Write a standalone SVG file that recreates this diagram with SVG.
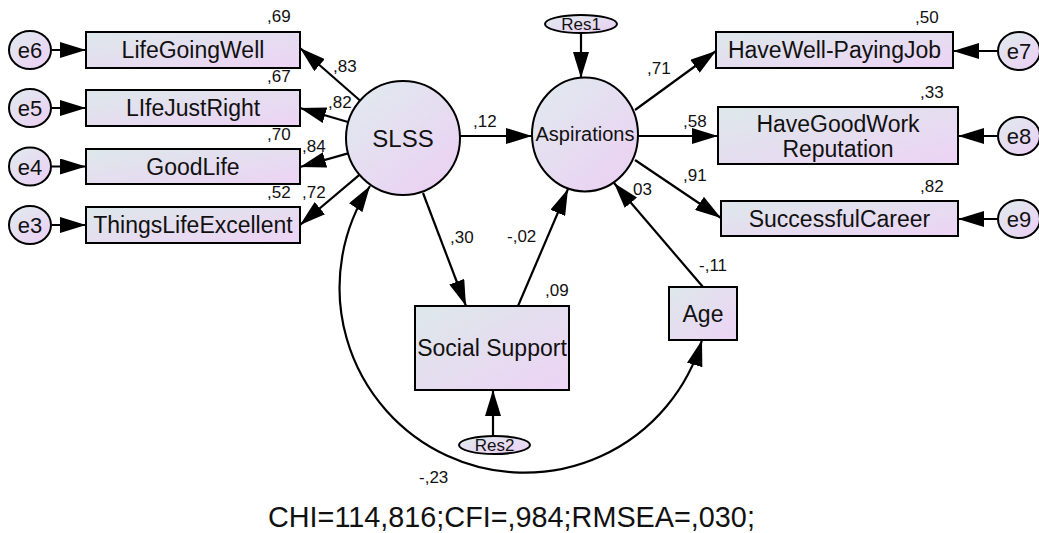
<svg xmlns="http://www.w3.org/2000/svg" width="1039" height="533" viewBox="0 0 1039 533">
<defs>
<linearGradient id="gbox" x1="0" y1="0" x2="1" y2="1">
<stop offset="0" stop-color="#dde8ea"/>
<stop offset="1" stop-color="#edd3f5"/>
</linearGradient>
<linearGradient id="gcirc" x1="0.15" y1="0.1" x2="0.85" y2="0.95">
<stop offset="0" stop-color="#e1e8ef"/>
<stop offset="1" stop-color="#ebd1f3"/>
</linearGradient>
<marker id="arr" viewBox="0 0 26 16" refX="26" refY="8" markerWidth="26" markerHeight="16" markerUnits="userSpaceOnUse" orient="auto-start-reverse">
<path d="M0,0 L26,8 L0,16 z" fill="#000"/>
</marker>
<style>
.box{fill:url(#gbox);stroke:#000;stroke-width:2}
.circ{fill:url(#gcirc);stroke:#000;stroke-width:2}
.lbl{font-family:"Liberation Sans",Arial,sans-serif;font-size:23px;fill:#111;text-anchor:middle}
.el{font-family:"Liberation Sans",Arial,sans-serif;font-size:22px;fill:#111;text-anchor:middle}
.res{font-family:"Liberation Sans",Arial,sans-serif;font-size:17px;fill:#111;text-anchor:middle}
.num{font-family:"Liberation Sans",Arial,sans-serif;font-size:17px;fill:#111}
.con{stroke:#000;stroke-width:2.2;fill:none;marker-end:url(#arr)}
</style>
</defs>
<rect width="1039" height="533" fill="#fff"/>

<g id="connectors">
<line class="con" x1="52" y1="50" x2="86" y2="50"/>
<line class="con" x1="52" y1="108" x2="86" y2="108"/>
<line class="con" x1="52" y1="166.5" x2="86" y2="166.5"/>
<line class="con" x1="52" y1="225" x2="86" y2="225"/>
<line class="con" x1="360" y1="100.5" x2="300" y2="48"/>
<line class="con" x1="348" y1="122" x2="300" y2="108"/>
<line class="con" x1="348" y1="153.4" x2="300" y2="167"/>
<line class="con" x1="359.4" y1="174.8" x2="300" y2="225"/>
<line class="con" x1="460" y1="136" x2="532" y2="136"/>
<line class="con" x1="581" y1="33" x2="581" y2="78"/>
<line class="con" x1="635" y1="110" x2="716" y2="51"/>
<line class="con" x1="638" y1="136" x2="718" y2="136"/>
<line class="con" x1="635" y1="160" x2="721" y2="218"/>
<line class="con" x1="997" y1="51" x2="953" y2="51"/>
<line class="con" x1="997" y1="136" x2="958" y2="136"/>
<line class="con" x1="997" y1="219" x2="958" y2="219"/>
<line class="con" x1="423" y1="193" x2="466" y2="306"/>
<line class="con" x1="518" y1="306" x2="568" y2="189"/>
<line class="con" x1="703" y1="287" x2="614" y2="183"/>
<line class="con" x1="493" y1="436" x2="493" y2="390"/>
<path class="con" d="M370,186 A185,185 0 1 0 702,340" marker-start="url(#arr)"/>
</g>

<g id="e6"><ellipse class="circ" cx="30" cy="50" rx="21" ry="19"/><text class="el" x="30" y="58">e6</text></g>
<g id="e5"><ellipse class="circ" cx="30" cy="108" rx="21" ry="19"/><text class="el" x="30" y="116">e5</text></g>
<g id="e4"><ellipse class="circ" cx="30" cy="166.5" rx="21" ry="19"/><text class="el" x="30" y="174.5">e4</text></g>
<g id="e3"><ellipse class="circ" cx="30" cy="225" rx="21" ry="19"/><text class="el" x="30" y="233">e3</text></g>

<g id="LifeGoingWell"><rect class="box" x="86" y="32" width="214" height="36"/><text class="lbl" x="193" y="58">LifeGoingWell</text></g>
<g id="LIfeJustRight"><rect class="box" x="86" y="90" width="214" height="36"/><text class="lbl" x="193" y="116">LIfeJustRight</text></g>
<g id="GoodLife"><rect class="box" x="86" y="149" width="214" height="35"/><text class="lbl" x="193" y="175">GoodLife</text></g>
<g id="ThingsLifeExcellent"><rect class="box" x="86" y="207" width="214" height="36"/><text class="lbl" x="193" y="233">ThingsLifeExcellent</text></g>

<g id="SLSS"><circle class="circ" cx="403" cy="138" r="57"/><text class="lbl" x="403" y="147" style="font-size:24px">SLSS</text></g>
<g id="Aspirations"><ellipse class="circ" cx="585" cy="134.5" rx="53" ry="57"/><text class="lbl" x="585" y="141" style="font-size:20px">Aspirations</text></g>
<g id="Res1"><ellipse class="circ" cx="581" cy="24" rx="36" ry="9"/><text class="res" x="581" y="30">Res1</text></g>

<g id="HaveWell-PayingJob"><rect class="box" x="716" y="32" width="237" height="36"/><text class="lbl" x="834.5" y="58">HaveWell-PayingJob</text></g>
<g id="HaveGoodWorkReputation"><rect class="box" x="718" y="107" width="240" height="57"/><text class="lbl" x="838" y="132">HaveGoodWork</text><text class="lbl" x="838" y="157">Reputation</text></g>
<g id="SuccessfulCareer"><rect class="box" x="721" y="201" width="237" height="35"/><text class="lbl" x="839.5" y="227">SuccessfulCareer</text></g>

<g id="e7"><ellipse class="circ" cx="1019" cy="51" rx="21" ry="19"/><text class="el" x="1019" y="59">e7</text></g>
<g id="e8"><ellipse class="circ" cx="1019" cy="136" rx="21" ry="19"/><text class="el" x="1019" y="144">e8</text></g>
<g id="e9"><ellipse class="circ" cx="1019" cy="219" rx="21" ry="19"/><text class="el" x="1019" y="227">e9</text></g>

<g id="SocialSupport"><rect class="box" x="415" y="306" width="154" height="84"/><text class="lbl" x="492" y="356">Social Support</text></g>
<g id="Age"><rect class="box" x="669" y="287" width="68" height="53"/><text class="lbl" x="703" y="322">Age</text></g>
<g id="Res2"><ellipse class="circ" cx="494.5" cy="445" rx="35.5" ry="9"/><text class="res" x="494.5" y="451">Res2</text></g>

<g id="labels">
<text class="num" x="267" y="22">,69</text>
<text class="num" x="267" y="82">,67</text>
<text class="num" x="267" y="140">,70</text>
<text class="num" x="267" y="198">,52</text>
<text class="num" x="302" y="198">,72</text>
<text class="num" x="302" y="152">,84</text>
<text class="num" x="328" y="108">,82</text>
<text class="num" x="333" y="72">,83</text>
<text class="num" x="473" y="127">,12</text>
<text class="num" x="915" y="23">,50</text>
<text class="num" x="920" y="98">,33</text>
<text class="num" x="920" y="192">,82</text>
<text class="num" x="647" y="74">,71</text>
<text class="num" x="683" y="127">,58</text>
<text class="num" x="683" y="181">,91</text>
<text class="num" x="633" y="195">03</text>
<text class="num" x="450" y="243">,30</text>
<text class="num" x="507" y="242">-,02</text>
<text class="num" x="545" y="296">,09</text>
<text class="num" x="699" y="271">-,11</text>
<text class="num" x="419" y="483">-,23</text>
</g>
<text x="268" y="527" style="font-family:'Liberation Sans',Arial,sans-serif;font-size:28.8px;fill:#111">CHI=114,816;CFI=,984;RMSEA=,030;</text>
</svg>
